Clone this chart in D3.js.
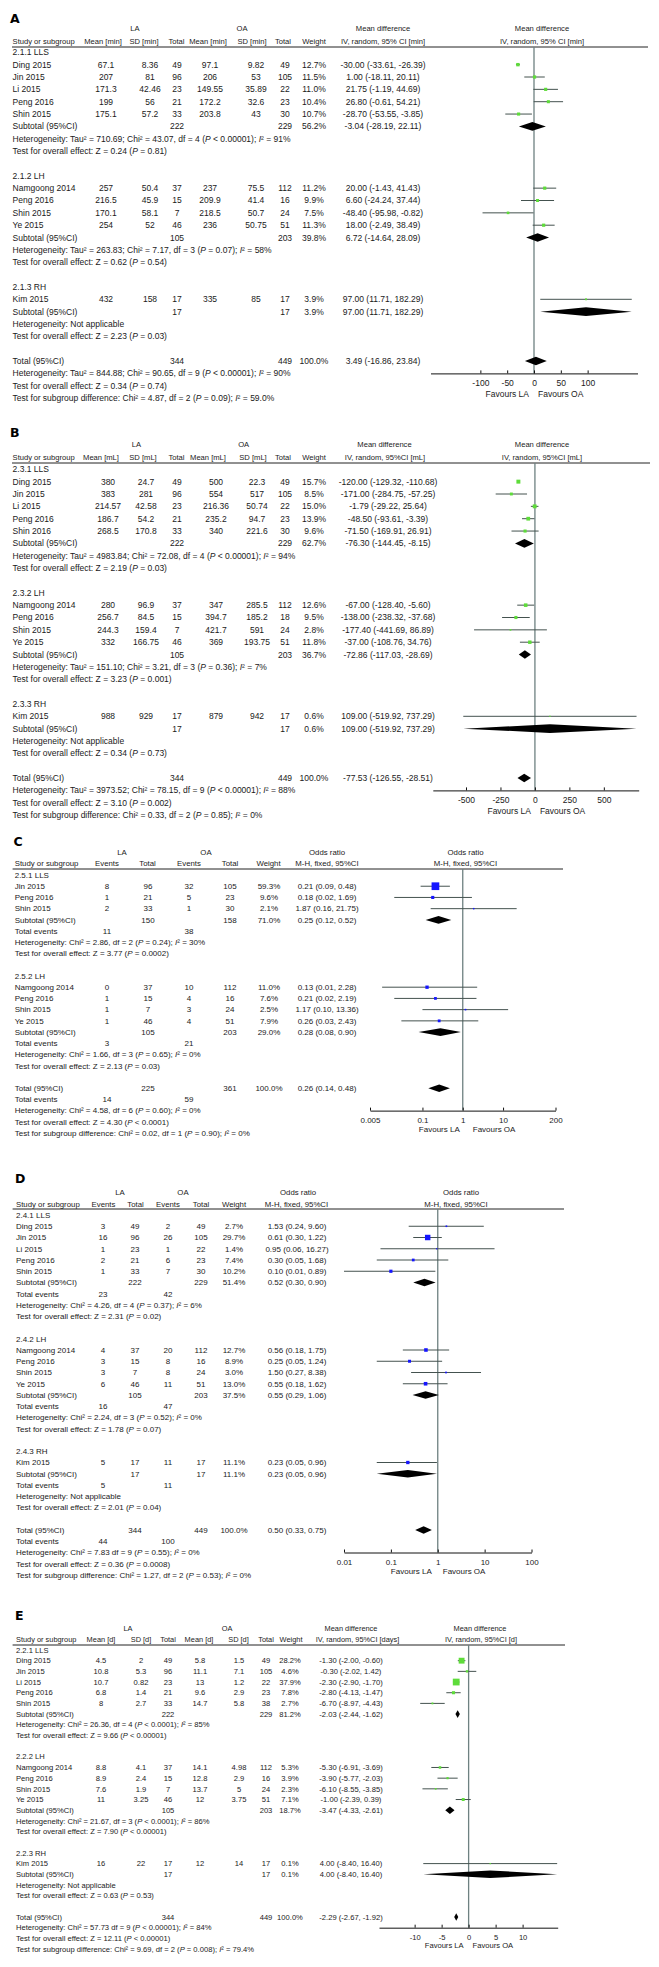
<!DOCTYPE html>
<html><head><meta charset="utf-8">
<script src="https://cdn.jsdelivr.net/npm/d3@7"></script>
<style>body{margin:0;background:#fff}svg{display:block}</style>
</head><body>
<script>
// ---------------- DATA ----------------
// row types: g = subgroup heading, s = study, d = pooled (diamond), e = total events, t = text, b = blank
const rowsA = [
["g","2.1.1 LLS"],
["s","Ding 2015",["67.1","8.36","49","97.1","9.82","49"],12.7,-30.00,-33.61,-26.39],
["s","Jin 2015",["207","81","96","206","53","105"],11.5,1.00,-18.11,20.11],
["s","Li 2015",["171.3","42.46","23","149.55","35.89","22"],11.0,21.75,-1.19,44.69],
["s","Peng 2016",["199","56","21","172.2","32.6","23"],10.4,26.80,-0.61,54.21],
["s","Shin 2015",["175.1","57.2","33","203.8","43","30"],10.7,-28.70,-53.55,-3.85],
["d","Subtotal (95%CI)",["","","222","","","229"],56.2,-3.04,-28.19,22.11],
["t","Heterogeneity: Tau² = 710.69; Chi² = 43.07, df = 4 (_P_ < 0.00001); _I_² = 91%"],
["t","Test for overall effect: Z = 0.24 (_P_ = 0.81)"],
["b"],
["g","2.1.2 LH"],
["s","Namgoong 2014",["257","50.4","37","237","75.5","112"],11.2,20.00,-1.43,41.43],
["s","Peng 2016",["216.5","45.9","15","209.9","41.4","16"],9.9,6.60,-24.24,37.44],
["s","Shin 2015",["170.1","58.1","7","218.5","50.7","24"],7.5,-48.40,-95.98,-0.82],
["s","Ye 2015",["254","52","46","236","50.75","51"],11.3,18.00,-2.49,38.49],
["d","Subtotal (95%CI)",["","","105","","","203"],39.8,6.72,-14.64,28.09],
["t","Heterogeneity: Tau² = 263.83; Chi² = 7.17, df = 3 (_P_ = 0.07); _I_² = 58%"],
["t","Test for overall effect: Z = 0.62 (_P_ = 0.54)"],
["b"],
["g","2.1.3 RH"],
["s","Kim 2015",["432","158","17","335","85","17"],3.9,97.00,11.71,182.29],
["d","Subtotal (95%CI)",["","","17","","","17"],3.9,97.00,11.71,182.29],
["t","Heterogeneity: Not applicable"],
["t","Test for overall effect: Z = 2.23 (_P_ = 0.03)"],
["b"],
["d","Total (95%CI)",["","","344","","","449"],100.0,3.49,-16.86,23.84],
["t","Heterogeneity: Tau² = 844.88; Chi² = 90.65, df = 9 (_P_ < 0.00001); _I_² = 90%"],
["t","Test for overall effect: Z = 0.34 (_P_ = 0.74)"],
["t","Test for subgroup difference: Chi² = 4.87, df = 2 (_P_ = 0.09); _I_² = 59.0%"]
];
const headA1 = ["LA","OA","Mean difference","Mean difference"];
const headA2 = ["Study or subgroup","Mean [min]","SD [min]","Total","Mean [min]","SD [min]","Total","Weight","IV, random, 95% CI [min]","IV, random, 95% CI [min]"];
const ticksA = [-100,-50,0,50,100];

const rowsB = [
["g","2.3.1 LLS"],
["s","Ding 2015",["380","24.7","49","500","22.3","49"],15.7,-120.00,-129.32,-110.68],
["s","Jin 2015",["383","281","96","554","517","105"],8.5,-171.00,-284.75,-57.25],
["s","Li 2015",["214.57","42.58","23","216.36","50.74","22"],15.0,-1.79,-29.22,25.64],
["s","Peng 2016",["186.7","54.2","21","235.2","94.7","23"],13.9,-48.50,-93.61,-3.39],
["s","Shin 2016",["268.5","170.8","33","340","221.6","30"],9.6,-71.50,-169.91,26.91],
["d","Subtotal (95%CI)",["","","222","","","229"],62.7,-76.30,-144.45,-8.15],
["t","Heterogeneity: Tau² = 4983.84; Chi² = 72.08, df = 4 (_P_ < 0.00001); _I_² = 94%"],
["t","Test for overall effect: Z = 2.19 (_P_ = 0.03)"],
["b"],
["g","2.3.2 LH"],
["s","Namgoong 2014",["280","96.9","37","347","285.5","112"],12.6,-67.00,-128.40,-5.60],
["s","Peng 2016",["256.7","84.5","15","394.7","185.2","18"],9.5,-138.00,-238.32,-37.68],
["s","Shin 2015",["244.3","159.4","7","421.7","591","24"],2.8,-177.40,-441.69,86.89],
["s","Ye 2015",["332","166.75","46","369","193.75","51"],11.8,-37.00,-108.76,34.76],
["d","Subtotal (95%CI)",["","","105","","","203"],36.7,-72.86,-117.03,-28.69],
["t","Heterogeneity: Tau² = 151.10; Chi² = 3.21, df = 3 (_P_ = 0.36); _I_² = 7%"],
["t","Test for overall effect: Z = 3.23 (_P_ = 0.001)"],
["b"],
["g","2.3.3 RH"],
["s","Kim 2015",["988","929","17","879","942","17"],0.6,109.00,-519.92,737.29],
["d","Subtotal (95%CI)",["","","17","","","17"],0.6,109.00,-519.92,737.29],
["t","Heterogeneity: Not applicable"],
["t","Test for overall effect: Z = 0.34 (_P_ = 0.73)"],
["b"],
["d","Total (95%CI)",["","","344","","","449"],100.0,-77.53,-126.55,-28.51],
["t","Heterogeneity: Tau² = 3973.52; Chi² = 78.15, df = 9 (_P_ < 0.00001); _I_² = 88%"],
["t","Test for overall effect: Z = 3.10 (_P_ = 0.002)"],
["t","Test for subgroup difference: Chi² = 0.33, df = 2 (_P_ = 0.85); _I_² = 0%"]
];
const headB1 = ["LA","OA","Mean difference","Mean difference"];
const headB2 = ["Study or subgroup","Mean [mL]","SD [mL]","Total","Mean [mL]","SD [mL]","Total","Weight","IV, random, 95%CI [mL]","IV, random, 95%CI [mL]"];
const ticksB = [-500,-250,0,250,500];

const rowsC = [
["g","2.5.1 LLS"],
["s","Jin 2015",["8","96","32","105"],59.3,0.21,0.09,0.48],
["s","Peng 2016",["1","21","5","23"],9.6,0.18,0.02,1.69],
["s","Shin 2015",["2","33","1","30"],2.1,1.87,0.16,21.75],
["d","Subtotal (95%CI)",["","150","","158"],71.0,0.25,0.12,0.52],
["e","Total events",["11","","38",""]],
["t","Heterogeneity: Chi² = 2.86, df = 2 (_P_ = 0.24); _I_² = 30%"],
["t","Test for overall effect: Z = 3.77 (_P_ = 0.0002)"],
["b"],
["g","2.5.2 LH"],
["s","Namgoong 2014",["0","37","10","112"],11.0,0.13,0.01,2.28],
["s","Peng 2016",["1","15","4","16"],7.6,0.21,0.02,2.19],
["s","Shin 2015",["1","7","3","24"],2.5,1.17,0.10,13.36],
["s","Ye 2015",["1","46","4","51"],7.9,0.26,0.03,2.43],
["d","Subtotal (95%CI)",["","105","","203"],29.0,0.28,0.08,0.90],
["e","Total events",["3","","21",""]],
["t","Heterogeneity: Chi² = 1.66, df = 3 (_P_ = 0.65); _I_² = 0%"],
["t","Test for overall effect: Z = 2.13 (_P_ = 0.03)"],
["b"],
["d","Total (95%CI)",["","225","","361"],100.0,0.26,0.14,0.48],
["e","Total events",["14","","59",""]],
["t","Heterogeneity: Chi² = 4.58, df = 6 (_P_ = 0.60); _I_² = 0%"],
["t","Test for overall effect: Z = 4.30 (_P_ < 0.0001)"],
["t","Test for subgroup difference: Chi² = 0.02, df = 1 (_P_ = 0.90); _I_² = 0%"]
];
const headC1 = ["LA","OA","Odds ratio","Odds ratio"];
const headC2 = ["Study or subgroup","Events","Total","Events","Total","Weight","M-H, fixed, 95%CI","M-H, fixed, 95%CI"];
const ticksC = [0.005,0.1,1,10,200];

const rowsD = [
["g","2.4.1 LLS"],
["s","Ding 2015",["3","49","2","49"],2.7,1.53,0.24,9.60],
["s","Jin 2015",["16","96","26","105"],29.7,0.61,0.30,1.22],
["s","Li 2015",["1","23","1","22"],1.4,0.95,0.06,16.27],
["s","Peng 2016",["2","21","6","23"],7.4,0.30,0.05,1.68],
["s","Shin 2015",["1","33","7","30"],10.2,0.10,0.01,0.89],
["d","Subtotal (95%CI)",["","222","","229"],51.4,0.52,0.30,0.90],
["e","Total events",["23","","42",""]],
["t","Heterogeneity: Chi² = 4.26, df = 4 (_P_ = 0.37); _I_² = 6%"],
["t","Test for overall effect: Z = 2.31 (_P_ = 0.02)"],
["b"],
["g","2.4.2 LH"],
["s","Namgoong 2014",["4","37","20","112"],12.7,0.56,0.18,1.75],
["s","Peng 2016",["3","15","8","16"],8.9,0.25,0.05,1.24],
["s","Shin 2015",["3","7","8","24"],3.0,1.50,0.27,8.38],
["s","Ye 2015",["6","46","11","51"],13.0,0.55,0.18,1.62],
["d","Subtotal (95%CI)",["","105","","203"],37.5,0.55,0.29,1.06],
["e","Total events",["16","","47",""]],
["t","Heterogeneity: Chi² = 2.24, df = 3 (_P_ = 0.52); _I_² = 0%"],
["t","Test for overall effect: Z = 1.78 (_P_ = 0.07)"],
["b"],
["g","2.4.3 RH"],
["s","Kim 2015",["5","17","11","17"],11.1,0.23,0.05,0.96],
["d","Subtotal (95%CI)",["","17","","17"],11.1,0.23,0.05,0.96],
["e","Total events",["5","","11",""]],
["t","Heterogeneity: Not applicable"],
["t","Test for overall effect: Z = 2.01 (_P_ = 0.04)"],
["b"],
["d","Total (95%CI)",["","344","","449"],100.0,0.50,0.33,0.75],
["e","Total events",["44","","100",""]],
["t","Heterogeneity: Chi² = 7.83 df = 9 (_P_ = 0.55); _I_² = 0%"],
["t","Test for overall effect: Z = 0.36 (_P_ = 0.0008)"],
["t","Test for subgroup difference: Chi² = 1.27, df = 2 (_P_ = 0.53); _I_² = 0%"]
];
const headD1 = ["LA","OA","Odds ratio","Odds ratio"];
const headD2 = ["Study or subgroup","Events","Total","Events","Total","Weight","M-H, fixed, 95%CI","M-H, fixed, 95%CI"];
const ticksD = [0.01,0.1,1,10,100];

const rowsE = [
["g","2.2.1 LLS"],
["s","Ding 2015",["4.5","2","49","5.8","1.5","49"],28.2,-1.30,-2.00,-0.60],
["s","Jin 2015",["10.8","5.3","96","11.1","7.1","105"],4.6,-0.30,-2.02,1.42],
["s","Li 2015",["10.7","0.82","23","13","1.2","22"],37.9,-2.30,-2.90,-1.70],
["s","Peng 2016",["6.8","1.4","21","9.6","2.9","23"],7.8,-2.80,-4.13,-1.47],
["s","Shin 2015",["8","2.7","33","14.7","5.8","38"],2.7,-6.70,-8.97,-4.43],
["d","Subtotal (95%CI)",["","","222","","","229"],81.2,-2.03,-2.44,-1.62],
["t","Heterogeneity: Chi² = 26.36, df = 4 (_P_ < 0.0001); _I_² = 85%"],
["t","Test for overall effect: Z = 9.66 (_P_ < 0.00001)"],
["b"],
["g","2.2.2 LH"],
["s","Namgoong 2014",["8.8","4.1","37","14.1","4.98","112"],5.3,-5.30,-6.91,-3.69],
["s","Peng 2016",["8.9","2.4","15","12.8","2.9","16"],3.9,-3.90,-5.77,-2.03],
["s","Shin 2015",["7.6","1.9","7","13.7","5","24"],2.3,-6.10,-8.55,-3.85],
["s","Ye 2015",["11","3.25","46","12","3.75","51"],7.1,-1.00,-2.39,0.39],
["d","Subtotal (95%CI)",["","","105","","","203"],18.7,-3.47,-4.33,-2.61],
["t","Heterogeneity: Chi² = 21.67, df = 3 (_P_ < 0.0001); _I_² = 86%"],
["t","Test for overall effect: Z = 7.90 (_P_ < 0.00001)"],
["b"],
["g","2.2.3 RH"],
["s","Kim 2015",["16","22","17","12","14","17"],0.1,4.00,-8.40,16.40],
["d","Subtotal (95%CI)",["","","17","","","17"],0.1,4.00,-8.40,16.40],
["t","Heterogeneity: Not applicable"],
["t","Test for overall effect: Z = 0.63 (_P_ = 0.53)"],
["b"],
["d","Total (95%CI)",["","","344","","","449"],100.0,-2.29,-2.67,-1.92],
["t","Heterogeneity: Chi² = 57.73 df = 9 (_P_ < 0.00001); _I_² = 84%"],
["t","Test for overall effect: Z = 12.11 (_P_ < 0.00001)"],
["t","Test for subgroup difference: Chi² = 9.69, df = 2 (_P_ = 0.008); _I_² = 79.4%"]
];
const headE1 = ["LA","OA","Mean difference","Mean difference"];
const headE2 = ["Study or subgroup","Mean [d]","SD [d]","Total","Mean [d]","SD [d]","Total","Weight","IV, random, 95%CI [days]","IV, random, 95%CI [d]"];
const ticksE = [-10,-5,0,5,10];

const favours = ["Favours LA","Favours OA"];

// ---------------- LAYOUT ----------------
const GREEN = "#5edc3a", BLUE = "#1515ff";
const panels = [
 {letter:"A", rows:rowsA, h1:headA1, h2:headA2, ticks:ticksA, nul:0,
  scale:d3.scaleLinear().domain([-193,193]).range([430.5,637.5]),
  y0:52.3, step:12.35, fs:8.5, hfs:7.6, labelY:19, r1Y:28, r2Y:41, lineY:47, lineX:[12,648],
  letterX:10, studyX:12.6, h1X:[135,242,383,542], h2X:[12.6,103,144,176.5,208,252,283,314,383,542],
  valX:[106,150,177,210,256,285], wX:314, ciX:383, axisRow:26, color:GREEN, sq:0.95, dh:4.3, favDy:21, favL:5, favR:4},
 {letter:"B", rows:rowsB, h1:headB1, h2:headB2, ticks:ticksB, nul:0,
  scale:d3.scaleLinear().domain([-741,753]).range([432.8,638.7]),
  y0:469.3, step:12.35, fs:8.5, hfs:7.6, labelY:433, r1Y:444, r2Y:457, lineY:463, lineX:[12,650],
  letterX:10, studyX:12.6, h1X:[136.5,243.7,384.5,542], h2X:[12.6,101,143,176.5,208,253,283,314,385,542],
  valX:[108,146,177,216,257,285], wX:314, ciX:388, axisRow:26, color:GREEN, sq:1.0, dh:4.3, favDy:21, favL:4, favR:5},
 {letter:"C", rows:rowsC, h1:headC1, h2:headC2, ticks:ticksC, nul:1,
  scale:d3.scaleLog().domain([0.005,200]).range([370,555.5]),
  y0:875, step:11.22, fs:8, hfs:7.8, labelY:842, r1Y:852, r2Y:863, lineY:869, lineX:[12.6,563],
  letterX:13.5, studyX:14.7, h1X:[122,206,327,465.5], h2X:[14.7,107,147.5,189,230,268.5,327,465.5],
  valX:[107,148,189,230], wX:269, ciX:327, axisRow:21, color:BLUE, sq:1.0, dh:3.8, favDy:19, favL:3, favR:10},
 {letter:"D", rows:rowsD, h1:headD1, h2:headD2, ticks:ticksD, nul:1,
  scale:d3.scaleLog().domain([0.01,100]).range([344,531.5]),
  y0:1215, step:11.25, fs:8, hfs:7.8, labelY:1179, r1Y:1192, r2Y:1204, lineY:1209, lineX:[12.6,564],
  letterX:15, studyX:16, h1X:[120,183,298,461], h2X:[16,103.5,135.5,168,201,234,296.5,456],
  valX:[103,135,168,201], wX:234, ciX:297, axisRow:30, color:BLUE, sq:1.0, dh:3.8, favDy:19, favL:6, favR:5},
 {letter:"E", rows:rowsE, h1:headE1, h2:headE2, ticks:ticksE, nul:0,
  scale:d3.scaleLinear().domain([-16.6,16.5]).range([379,557.7]),
  y0:1650, step:10.68, fs:7.6, hfs:7.4, labelY:1616, r1Y:1628, r2Y:1639, lineY:1645, lineX:[12.6,565],
  letterX:15, studyX:16, h1X:[128,227,351,480], h2X:[16,101,141,168,199,238.5,266,291,357.5,481],
  valX:[101,141,168,200,239,266], wX:290, ciX:351, axisRow:26, color:GREEN, sq:1.1, dh:3.8, favDy:18, favL:5, favR:4}
];

// ---------------- DRAW ----------------
const svg = d3.select("body").append("svg").attr("width",659).attr("height",1967)
  .attr("font-family","'Liberation Sans', Arial, sans-serif").attr("fill","#1a1a1a");
svg.append("rect").attr("width",659).attr("height",1967).attr("fill","#fff");

function rich(sel, str){
  str.split(/_(.*?)_/).forEach((p,i)=>{
    if(!p) return;
    const ts = sel.append("tspan").text(p);
    if(i%2) ts.attr("font-style","italic");
  });
}
function txt(g,x,y,fs,anchor){
  return g.append("text").attr("x",x).attr("y",y).attr("dy","0.35em")
    .attr("font-size",fs).attr("text-anchor",anchor||"middle").attr("fill","#1a1a1a");
}

panels.forEach(P=>{
  const g = svg.append("g");
  const fs = P.fs, sc = P.scale;
  const yRow = i => P.y0 + i*P.step;
  const zero = sc(P.nul);
  const axisY = yRow(P.axisRow);

  txt(g,P.letterX,P.labelY,12.5,"start").attr("font-family","'DejaVu Sans', sans-serif")
    .attr("font-weight","bold").attr("fill","#000").text(P.letter);
  P.h1.forEach((t,i)=> txt(g,P.h1X[i],P.r1Y,P.hfs).text(t));
  P.h2.forEach((t,i)=> txt(g,P.h2X[i],P.r2Y,P.hfs,i===0?"start":"middle").text(t));
  g.append("line").attr("x1",P.lineX[0]).attr("x2",P.lineX[1]).attr("y1",P.lineY).attr("y2",P.lineY)
    .attr("stroke","#222").attr("stroke-width",1);
  g.append("line").attr("x1",zero).attr("x2",zero).attr("y1",P.lineY).attr("y2",axisY)
    .attr("stroke","#6e8181").attr("stroke-width",1.3);

  P.rows.forEach((r,i)=>{
    const y = yRow(i), type = r[0];
    if(type==="b") return;
    rich(txt(g,P.studyX,y,fs,"start"), r[1]);
    if(type==="s"||type==="d"||type==="e"){
      r[2].forEach((v,j)=>{ if(v) txt(g,P.valX[j],y,fs).text(v); });
    }
    if(type==="s"||type==="d"){
      const [w,est,lo,hi] = r.slice(3);
      txt(g,P.wX,y,fs).text(w.toFixed(1)+"%");
      txt(g,P.ciX,y,fs).text(`${est.toFixed(2)} (${lo.toFixed(2)}, ${hi.toFixed(2)})`);
      if(type==="s"){
        g.append("line").attr("x1",sc(lo)).attr("x2",sc(hi)).attr("y1",y).attr("y2",y)
          .attr("stroke","#44524f").attr("stroke-width",1);
        const s = Math.max(1.3, P.sq*Math.sqrt(w));
        g.append("rect").attr("x",sc(est)-s/2).attr("y",y-s/2).attr("width",s).attr("height",s).attr("fill",P.color);
      } else {
        const h = P.dh;
        g.append("path").attr("d",`M${sc(lo)},${y}L${sc(est)},${y-h}L${sc(hi)},${y}L${sc(est)},${y+h}Z`).attr("fill","#000");
      }
    }
  });

  const ax = d3.axisBottom(sc).tickValues(P.ticks).tickSize(-3).tickSizeOuter(0).tickPadding(6.5)
    .tickFormat(d=>String(d));
  const ag = g.append("g").attr("transform",`translate(0,${axisY})`).call(ax);
  ag.attr("font-family",null).attr("font-size",null);
  ag.selectAll("text").attr("font-size",fs).attr("fill","#1a1a1a");
  ag.select(".domain").attr("stroke","#111");
  ag.selectAll(".tick line").attr("stroke","#111");
  txt(g,zero-P.favL,axisY+P.favDy,fs,"end").text(favours[0]);
  txt(g,zero+P.favR,axisY+P.favDy,fs,"start").text(favours[1]);
});
</script>
</body></html>
